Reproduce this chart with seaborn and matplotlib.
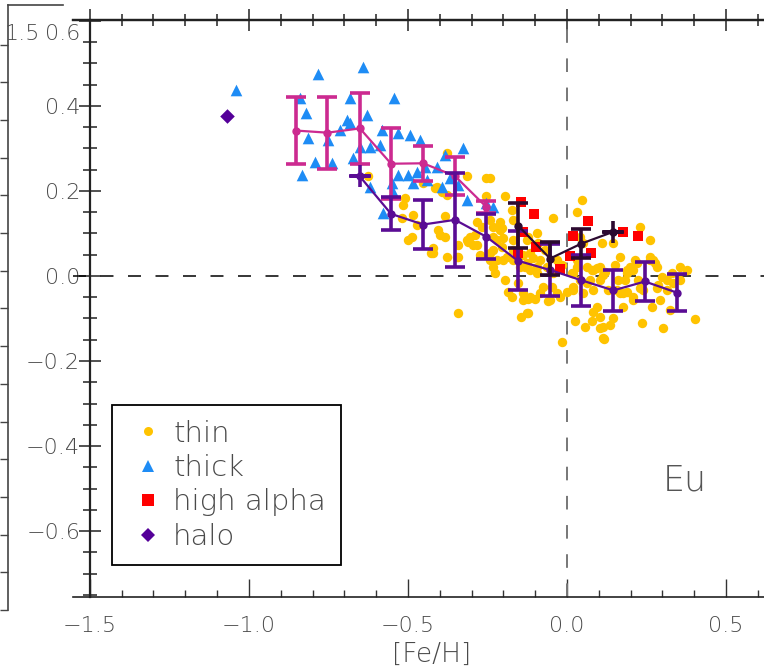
import matplotlib
matplotlib.use("Agg")
import matplotlib.pyplot as plt
import numpy as np
import pandas as pd
import seaborn as sns
from matplotlib.lines import Line2D
from matplotlib.ticker import MultipleLocator, FuncFormatter

sns.set_theme(style="ticks")
plt.rcParams['font.family'] = ['DejaVu Sans']
plt.rcParams['font.weight'] = 'light'
plt.rcParams['axes.labelweight'] = 'light'

# ---------------- data ----------------
thin_feh = [-0.242, -0.509, -0.483, -0.499, -0.488, -0.420, -0.405, -0.399, -0.384, -0.342,
            -0.310, -0.253, -0.242, -0.216, -0.211, -0.232, -0.200, -0.195, -0.174, -0.169,
            -0.095, -0.122, -0.221, -0.284, -0.274, -0.242, -0.221, -0.200, -0.232, -0.190,
            -0.169, -0.148, -0.127, -0.095, -0.106, -0.137, -0.226, -0.195, -0.185, -0.174,
            -0.153, -0.137, -0.116, -0.101, -0.127, -0.143, -0.085, -0.075, -0.053, -0.032,
            -0.043, 0.046, 0.031, 0.020, -0.001, 0.025, 0.057, 0.078, 0.114, 0.104,
            0.135, 0.146, 0.177, 0.208, 0.235, 0.303, 0.403, 0.208, 0.219, 0.261,
            0.277, 0.298, 0.329, 0.355, 0.376, 0.334, 0.313, 0.282, 0.230, 0.188,
            0.167, 0.093, 0.083, 0.104, 0.114, 0.062, 0.072, 0.020, 0.031, 0.051,
            0.041, 0.109, 0.167, 0.188, 0.182, 0.146, 0.230, 0.261, 0.271, -0.344,
            -0.015, 0.078, 0.093, 0.104, 0.083, 0.083, 0.104, 0.114, 0.116, 0.324,
            0.292, 0.285, 0.313, 0.355, 0.261, 0.282, 0.214, 0.198, 0.188, 0.224,
            0.240, 0.208, 0.177, 0.156, 0.161, 0.130, 0.151, 0.119, 0.266, -0.211,
            -0.205, -0.232, -0.169, -0.205, -0.232, -0.242, -0.169, -0.127, -0.090, -0.116,
            -0.069, -0.085, -0.116, -0.132, -0.095, -0.064, -0.043, -0.032, -0.017, -0.048,
            -0.022, -0.059, -0.122, -0.137, -0.122, 0.015, 0.031, 0.041, 0.051, 0.020,
            0.062, -0.515, -0.520, -0.420, -0.426, -0.384, -0.378, -0.347, -0.342, -0.315,
            -0.305, -0.284, -0.268, -0.315, -0.253, -0.415, -0.394, -0.378, -0.295, -0.289,
            -0.625, -0.378, -0.452, -0.410, -0.470]
thin_eu = [0.230, 0.183, 0.144, 0.085, 0.092, 0.053, 0.108, 0.096, 0.092, 0.045,
           0.081, 0.187, 0.132, 0.116, 0.108, 0.092, 0.089, 0.187, 0.155, 0.132,
           0.100, 0.092, 0.085, 0.073, 0.049, 0.053, 0.038, 0.038, 0.022, 0.045,
           0.038, 0.022, 0.030, 0.022, 0.042, 0.049, 0.006, -0.009, -0.037, -0.049,
           -0.017, -0.041, -0.049, -0.053, -0.088, -0.096, -0.041, -0.025, -0.056, -0.041,
           0.136, 0.179, 0.151, -0.025, -0.037, -0.107, -0.119, -0.107, -0.147, -0.123,
           -0.115, -0.100, -0.072, -0.056, -0.111, -0.123, -0.102, 0.014, 0.030, 0.085,
           0.030, -0.002, 0.006, 0.022, 0.014, -0.017, -0.033, -0.029, -0.029, -0.037,
           -0.041, -0.072, 0.014, 0.022, 0.002, 0.022, -0.009, 0.006, 0.038, 0.077,
           0.092, 0.077, 0.045, 0.014, -0.009, 0.077, 0.116, 0.045, 0.038, -0.088,
           -0.155, 0.014, 0.018, -0.009, -0.033, -0.084, -0.096, -0.119, -0.149, -0.080,
           -0.056, -0.022, -0.009, -0.009, 0.038, 0.022, 0.038, 0.022, 0.006, -0.009,
           -0.033, -0.049, -0.041, -0.033, -0.009, -0.033, 0.026, 0.010, -0.072, 0.128,
           0.112, 0.116, 0.085, 0.069, 0.061, 0.038, 0.061, 0.085, 0.077, 0.053,
           0.061, 0.038, 0.014, 0.022, 0.006, 0.022, 0.006, 0.038, 0.026, -0.025,
           -0.049, -0.060, -0.053, -0.056, -0.088, 0.006, 0.022, -0.009, -0.041, -0.033,
           -0.017, 0.167, 0.136, 0.065, 0.053, 0.140, 0.045, 0.045, 0.073, 0.085,
           0.092, 0.128, 0.116, 0.234, 0.230, 0.206, 0.198, 0.191, 0.073, 0.096,
           0.234, 0.289, 0.218, 0.210, 0.120]

thick_feh = [-1.041, -0.782, -0.642, -0.840, -0.682, -0.543, -0.821, -0.693, -0.682, -0.630,
             -0.714, -0.813, -0.751, -0.651, -0.619, -0.588, -0.583, -0.530, -0.494, -0.462,
             -0.672, -0.792, -0.740, -0.832, -0.530, -0.499, -0.473, -0.410, -0.384, -0.326,
             -0.483, -0.441, -0.394, -0.368, -0.342, -0.315, -0.551, -0.546, -0.577, -0.619,
             -0.232, -0.447, -0.253]
thick_eu = [0.438, 0.475, 0.491, 0.418, 0.418, 0.418, 0.383, 0.367, 0.359, 0.379,
            0.344, 0.324, 0.320, 0.304, 0.304, 0.308, 0.344, 0.336, 0.332, 0.320,
            0.277, 0.269, 0.265, 0.238, 0.238, 0.238, 0.245, 0.257, 0.285, 0.300,
            0.218, 0.226, 0.210, 0.230, 0.214, 0.179, 0.218, 0.198, 0.147, 0.210,
            0.163, 0.257, 0.171]

hialpha_feh = [-0.146, -0.104, -0.137, -0.096, -0.153, -0.022, 0.018, 0.067, 0.009, 0.077,
               0.177, 0.224]
hialpha_eu = [0.173, 0.146, 0.104, 0.068, 0.053, 0.016, 0.093, 0.129, 0.047, 0.053,
              0.104, 0.094]

halo_feh = [-1.069]
halo_eu = [0.376]

# binned trends: thick disc, thin disc, high-alpha
thick_bin_feh = [-0.852, -0.753, -0.651, -0.553, -0.452, -0.352, -0.253]
thick_bin_eu = [0.342, 0.337, 0.347, 0.264, 0.265, 0.235, 0.162]
thick_bin_err = [0.079, 0.085, 0.083, 0.084, 0.041, 0.044, 0.014]

thin_bin_feh = [-0.651, -0.553, -0.452, -0.352, -0.253, -0.155, -0.053, 0.045, 0.146, 0.245, 0.345]
thin_bin_eu = [0.234, 0.146, 0.121, 0.132, 0.092, 0.036, 0.014, -0.010, -0.034, -0.013, -0.039]
thin_bin_err = [0.0, 0.039, 0.058, 0.110, 0.053, 0.069, 0.061, 0.060, 0.048, 0.047, 0.043]

ha_bin_feh = [-0.153, -0.053, 0.045, 0.146]
ha_bin_eu = [0.118, 0.041, 0.076, 0.104]
ha_bin_err = [0.053, 0.039, 0.034, 0.0]

x_ticks = [-1.5, -1.0, -0.5, 0.0, 0.5]
y_ticks = [-0.6, -0.4, -0.2, 0.0, 0.2, 0.4, 0.6]

# ---------------- colours ----------------
C_THIN = '#FFC300'
C_THICK = '#1E8CF5'
C_HA = '#FF0000'
C_HALO = '#550099'
C_THICK_BIN = '#CC2A90'
C_THIN_BIN = '#5A0C94'
C_HA_BIN = '#2C0A30'
TXT = '#4a4a4a'

W, H = 764, 672
fig = plt.figure(figsize=(W / 100, H / 100), dpi=100)

# edge of the neighbouring panel on the left
ax0 = fig.add_axes([8 / W, 1 - 610 / H, 55 / W, 605 / H])
ax0.set_facecolor('none')
ax0.set_ylim(0, 16.05)
ax0.set_xlim(0, 1)
ax0.set_yticks(np.arange(0, 16))
ax0.set_xticks([])
ax0.tick_params(axis='y', direction='out', length=6, width=1.0, color='#444',
                left=True, labelleft=False)
for s in ['right', 'bottom']:
    ax0.spines[s].set_visible(False)
for s in ['left', 'top']:
    ax0.spines[s].set_visible(True)
    ax0.spines[s].set_color('#444')
    ax0.spines[s].set_linewidth(1.2)

# main panel
ax = fig.add_axes([73 / W, 1 - 597 / H, (W - 73) / W, 577 / H])
ax.set_facecolor('none')
ax.set_xlim(-1.553, 0.6195)
ax.set_ylim(-0.755, 0.602)

ax.axhline(0.0, color='black', lw=1.1, ls=(0, (8.5, 9.5)), zorder=1)
ax.axvline(0.0, color='#777777', lw=1.4, ls=(0, (7, 8)), zorder=1)

sns.scatterplot(x=thin_feh, y=thin_eu, color=C_THIN, marker='o', s=46, linewidth=0,
                ax=ax, zorder=2)
sns.scatterplot(x=thick_feh, y=thick_eu, color=C_THICK, marker='^', s=70, linewidth=0,
                ax=ax, zorder=3)
sns.scatterplot(x=hialpha_feh, y=hialpha_eu, color=C_HA, marker='s', s=62, linewidth=0,
                ax=ax, zorder=3)
sns.scatterplot(x=halo_feh, y=halo_eu, color=C_HALO, marker='D', s=55, linewidth=0,
                ax=ax, zorder=3)


def binned(xs, ys, errs, color, z):
    ax.errorbar(xs, ys, yerr=errs, fmt='-o', color=color, ms=5, lw=1.6,
                elinewidth=2.6, capsize=7.5, capthick=2.6, zorder=z)
    flat = [(x, y) for x, y, e in zip(xs, ys, errs) if e == 0]
    if flat:
        fx, fy = zip(*flat)
        ax.plot(fx, fy, ls='none', marker='+', ms=16, mew=2.6, color=color, zorder=z)


binned(thick_bin_feh, thick_bin_eu, thick_bin_err, C_THICK_BIN, 5)
binned(thin_bin_feh, thin_bin_eu, thin_bin_err, C_THIN_BIN, 6)
binned(ha_bin_feh, ha_bin_eu, ha_bin_err, C_HA_BIN, 7)


def fmt(v, _):
    if abs(v) < 1e-9:
        v = 0.0
    if abs(v - 0.6) < 1e-9:
        return ''
    return f'{v:.1f}'.replace('-', '\u2212')


ax.set_xticks(x_ticks)
ax.xaxis.set_minor_locator(MultipleLocator(0.1))
ax.set_yticks(y_ticks)
ax.yaxis.set_minor_locator(MultipleLocator(0.05))
ax.xaxis.set_major_formatter(FuncFormatter(fmt))
ax.yaxis.set_major_formatter(FuncFormatter(fmt))

ax.spines['left'].set_position(('data', -1.5))
ax.spines['right'].set_visible(False)
for s in ['left', 'bottom', 'top']:
    ax.spines[s].set_visible(True)
    ax.spines[s].set_color('#222')
ax.spines['left'].set_linewidth(1.6)
ax.spines['top'].set_linewidth(1.6)
ax.spines['bottom'].set_linewidth(1.2)

ax.tick_params(axis='x', which='major', direction='in', length=13, width=1.0,
               color='#333', labelsize=16, labelcolor=TXT, pad=14, bottom=True, top=False)
ax.tick_params(axis='x', which='minor', direction='in', length=5, width=1.0,
               color='#333', bottom=True, top=False)
ax.tick_params(axis='y', which='major', direction='inout', length=16, width=1.1,
               color='#222', labelsize=16, labelcolor=TXT, pad=-1, left=True, right=False)
ax.tick_params(axis='y', which='minor', direction='inout', length=10, width=1.1,
               color='#222', left=True, right=False)

top = ax.secondary_xaxis('top')
top.set_xticks(x_ticks)
top.xaxis.set_minor_locator(MultipleLocator(0.1))
top.tick_params(axis='x', which='major', direction='inout', length=16, width=1.1,
                color='#222', top=True, labeltop=False)
top.tick_params(axis='x', which='minor', direction='inout', length=9, width=1.1,
                color='#222', top=True)
top.spines['top'].set_linewidth(1.6)
top.spines['top'].set_color('#222')

ax.set_xlabel('[Fe/H]', fontsize=19, color=TXT, fontweight='light')
ax.xaxis.set_label_coords((432 - 73) / (W - 73), -0.078)

fig.text(40 / W, 1 - 34 / H, '1.5', ha='right', va='center', fontsize=16, color=TXT)
fig.text(80 / W, 1 - 34 / H, '0.6', ha='right', va='center', fontsize=16, color=TXT)

ax.text(0.37, -0.48, 'Eu', fontsize=25, color='#555555', ha='center', va='center')

handles = [
    Line2D([], [], ls='none', marker='o', color=C_THIN, ms=6.5, mew=0),
    Line2D([], [], ls='none', marker='^', color=C_THICK, ms=9, mew=0),
    Line2D([], [], ls='none', marker='s', color=C_HA, ms=8, mew=0),
    Line2D([], [], ls='none', marker='D', color=C_HALO, ms=7.5, mew=0),
]
labels = ['thin', 'thick', 'high alpha', 'halo']
leg = ax.legend(handles, labels, loc='upper left',
                bbox_to_anchor=((112 - 73) / (W - 73), (597 - 405) / 577),
                borderaxespad=0, fontsize=21, frameon=True, fancybox=False,
                edgecolor='black', framealpha=1, borderpad=0.5, labelspacing=0.22,
                handlelength=1.5, handletextpad=0.1, labelcolor=TXT)
leg.get_frame().set_linewidth(1.3)

fig.savefig('out.png', dpi=100)
